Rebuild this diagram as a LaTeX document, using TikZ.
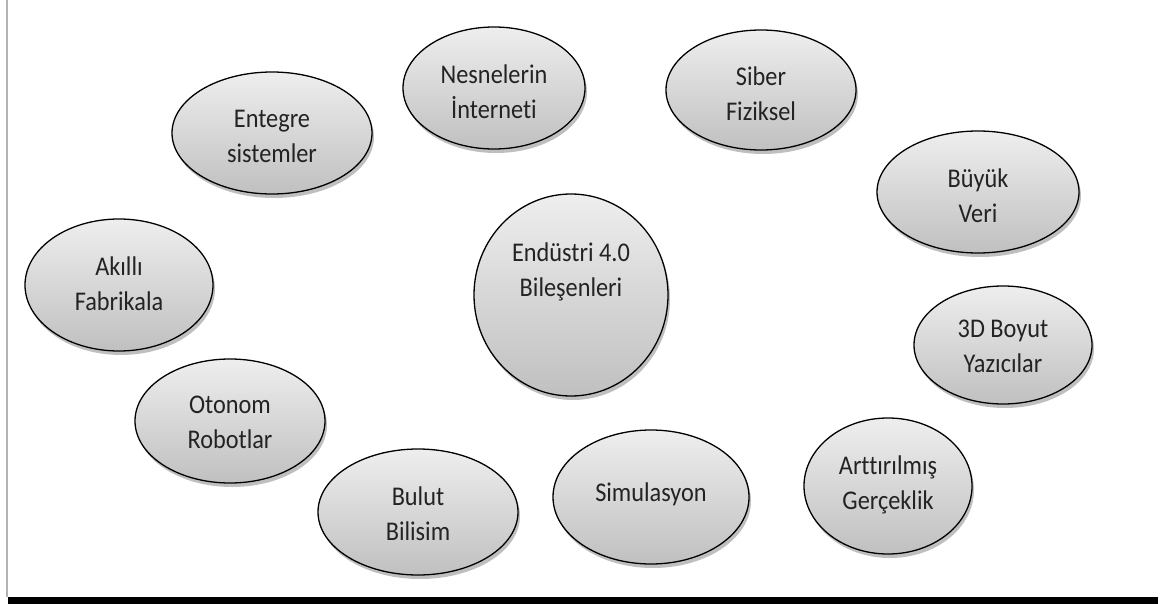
\documentclass[tikz,border=0pt]{standalone}
\usepackage{fontspec}
\setmainfont{Carlito}
\newfontfamily\lblfont[FakeStretch=0.9,RawFeature={-liga;-clig}]{Carlito}
\usetikzlibrary{shapes.geometric,shadows}
\definecolor{elltop}{RGB}{238,238,238}
\definecolor{ellbot}{RGB}{192,192,192}
\definecolor{txt}{RGB}{35,35,35}
\tikzset{
  comp/.style={ellipse, draw=black, line width=1.3pt, inner sep=0pt,
    top color=elltop, bottom color=ellbot,
    drop shadow={shadow xshift=2pt, shadow yshift=-4pt, opacity=0.25, fill=black}},
  lbl/.style={align=center, text=txt, font=\lblfont\fontsize{27}{35}\selectfont, inner sep=0pt}
}
\begin{document}
\begin{tikzpicture}[x=1pt,y=-1pt]
\useasboundingbox (0,0) rectangle (1161,604);
% page frame
\fill[gray!60] (6,0) rectangle (8,597);
\fill[black] (8,597) rectangle (1158,604);
% ellipses
\node[comp, minimum width=182pt, minimum height=122pt] (e2) at (494,88) {};
\node[comp, minimum width=190pt, minimum height=120pt] (e3) at (761,90) {};
\node[comp, minimum width=200pt, minimum height=122pt] (e1) at (272,133) {};
\node[comp, minimum width=202pt, minimum height=122pt] (e4) at (978,192) {};
\node[comp, minimum width=188pt, minimum height=132pt] (e5) at (119,285) {};
\node[comp, minimum width=194pt, minimum height=202pt] (e6) at (571,295) {};
\node[comp, minimum width=178pt, minimum height=118pt] (e7) at (1003,345) {};
\node[comp, minimum width=190pt, minimum height=124pt] (e8) at (230,421) {};
\node[comp, minimum width=200pt, minimum height=126pt] (e9) at (418,512) {};
\node[comp, minimum width=196pt, minimum height=134pt] (e10) at (651,497) {};
\node[comp, minimum width=168pt, minimum height=136pt] (e11) at (888,486) {};
% texts
\node[lbl] (t1) at (272,136) {Entegre\\sistemler};
\node[lbl] (t2) at (494,92) {Nesnelerin\\İnterneti};
\node[lbl] (t3) at (761,94) {Siber\\Fiziksel};
\node[lbl] (t4) at (978,196) {Büyük\\Veri};
\node[lbl] (t5) at (119,284) {Akıllı\\Fabrikala};
\node[lbl] (t6) at (571,272) {Endüstri 4.0\\Bileşenleri};
\node[lbl] (t7) at (1003,346) {3D Boyut\\Yazıcılar};
\node[lbl] (t8) at (230,422) {Otonom\\Robotlar};
\node[lbl] (t9) at (418,514) {Bulut\\Bilisim};
\node[lbl] (t10) at (651,494) {Simulasyon};
\node[lbl] (t11) at (888,485) {Arttırılmış\\Gerçeklik};
\end{tikzpicture}
\end{document}
